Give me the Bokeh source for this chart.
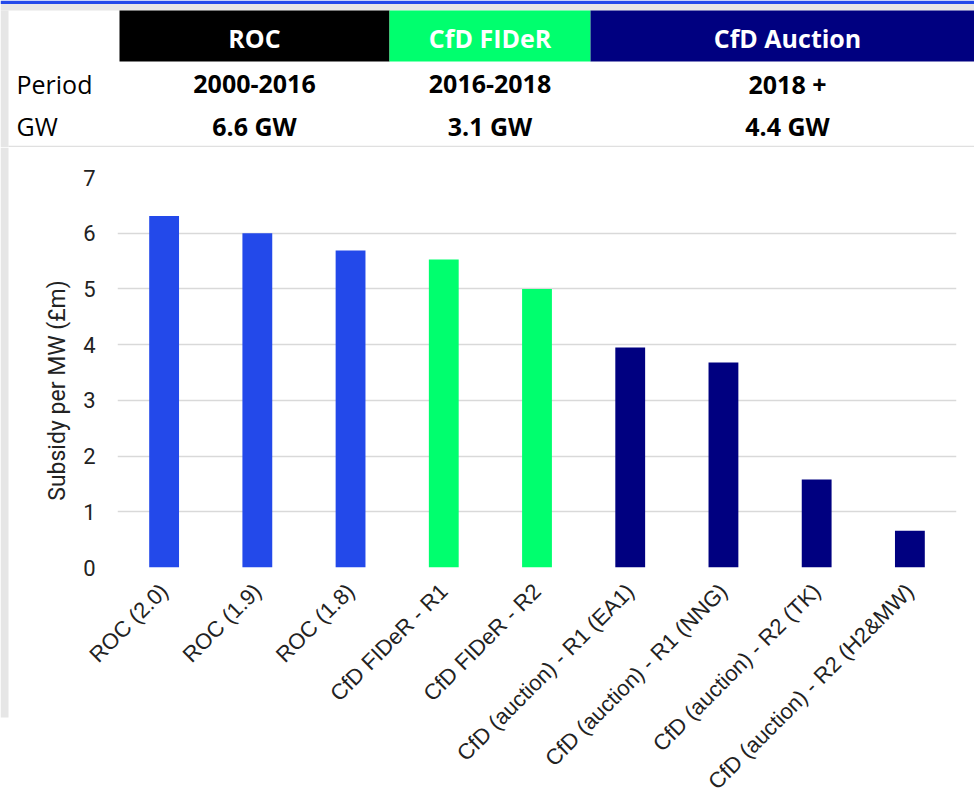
import math
from bokeh.plotting import figure
from bokeh.layouts import row, column
from bokeh.models import Range1d, FactorRange, ColumnDataSource
from bokeh.core.properties import value
from bokeh.embed import file_html
from bokeh.resources import INLINE

# ---------------- data ----------------
categories = [
    "ROC (2.0)", "ROC (1.9)", "ROC (1.8)",
    "CfD FIDeR - R1", "CfD FIDeR - R2",
    "CfD (auction) - R1 (EA1)", "CfD (auction) - R1 (NNG)",
    "CfD (auction) - R2 (TK)", "CfD (auction) - R2 (H2&MW)",
]
subsidy_per_mw = [6.31, 6.0, 5.69, 5.53, 5.0, 3.95, 3.68, 1.58, 0.66]
bar_scheme = ["ROC", "ROC", "ROC", "FIDeR", "FIDeR",
              "Auction", "Auction", "Auction", "Auction"]
scheme_colors = {"ROC": "#2349EA", "FIDeR": "#00FF6E", "Auction": "#000080"}

header_names = ["ROC", "CfD FIDeR", "CfD Auction"]
header_fill = ["#000000", "#00FF6E", "#000080"]
periods = ["2000-2016", "2016-2018", "2018 +"]
capacities = ["6.6 GW", "3.1 GW", "4.4 GW"]
row_labels = ["Period", "GW"]
y_ticks = [0, 1, 2, 3, 4, 5, 6, 7]
y_title = "Subsidy per MW (£m)"

BLUE_LINE = "#2349EA"
FRAME_GRAY = "#E6E6E6"
LEFT_W = 72


def blank(fig):
    fig.axis.visible = False
    fig.grid.visible = False
    fig.outline_line_color = None
    fig.frame_align = False
    return fig


# ---------------- header table (full width) ----------------
hdr = blank(figure(width=974, height=147, x_range=Range1d(0, 974), y_range=Range1d(147, 0),
                   output_backend="svg", toolbar_location=None, min_border=0))
hdr.quad(left=[0], right=[974], top=[0], bottom=[3.5], fill_color=BLUE_LINE, line_color=None)
hdr.quad(left=[0], right=[974], top=[3.5], bottom=[10], fill_color=FRAME_GRAY, line_color=None)
hdr.quad(left=[0], right=[8], top=[10], bottom=[147], fill_color=FRAME_GRAY, line_color=None)

cell_left = [119, 389, 590]
cell_right = [389, 590, 974]
text_x = [254, 489.5, 787]
hdr.quad(left=cell_left, right=cell_right, top=[10] * 3, bottom=[61] * 3,
         fill_color=header_fill, line_color=None)
hdr.text(x=text_x, y=[37] * 3, text=header_names, text_align="center", text_baseline="middle",
         text_font=value("Open Sans"), text_font_style="bold", text_font_size="25px",
         text_color="white")
hdr.text(x=text_x, y=[83.5] * 3, text=periods, text_align="center", text_baseline="middle",
         text_font=value("Open Sans"), text_font_style="bold", text_font_size="25px",
         text_color="#000000")
hdr.text(x=text_x, y=[125.5] * 3, text=capacities, text_align="center", text_baseline="middle",
         text_font=value("Open Sans"), text_font_style="bold", text_font_size="25px",
         text_color="#000000")
hdr.text(x=[16, 16], y=[83.5, 125.5], text=row_labels, text_align="left", text_baseline="middle",
         text_font=value("Open Sans"), text_font_size="25px", text_color="#000000")
hdr.line(x=[8, 974], y=[146, 146], line_color="#E0E0E0", line_width=1.5)

# ---------------- left panel: grey strip + y-axis title ----------------
left = blank(figure(width=LEFT_W, height=660, x_range=Range1d(0, LEFT_W), y_range=Range1d(0, 660),
                    output_backend="svg", toolbar_location=None, min_border=0))
left.quad(left=[0], right=[8], top=[660], bottom=[90], fill_color=FRAME_GRAY, line_color=None)
left.text(x=[57], y=[417], text=[y_title], angle=math.pi / 2, text_align="center",
          text_baseline="middle", text_font=value("Roboto"), text_font_size="23px",
          text_color="#222222")

# ---------------- bar chart ----------------
src = ColumnDataSource(dict(
    cat=categories,
    val=subsidy_per_mw,
    color=[scheme_colors[s] for s in bar_scheme],
))

p = figure(width=974 - LEFT_W, height=660, x_range=FactorRange(*categories), y_range=Range1d(0, 7),
           output_backend="svg", toolbar_location=None,
           min_border_left=117 - LEFT_W, min_border_right=18, min_border_top=30,
           min_border_bottom=240)
p.frame_align = False
p.vbar(x="cat", top="val", width=0.32, fill_color="color", line_color=None, source=src)

p.outline_line_color = None
p.background_fill_color = "white"
p.border_fill_color = "white"
p.xgrid.visible = False
p.ygrid.grid_line_color = "#D9D9D9"
p.ygrid.grid_line_width = 1.5
p.yaxis.ticker = y_ticks
p.x_range.range_padding = 0
p.x_range.factor_padding = 0

for ax in (p.xaxis[0], p.yaxis[0]):
    ax.axis_line_color = None
    ax.major_tick_line_color = None
    ax.minor_tick_line_color = None
    ax.major_tick_out = 0
    ax.major_tick_in = 0

p.yaxis.major_label_text_font = "Roboto"
p.yaxis.major_label_text_font_size = "22px"
p.yaxis.major_label_text_color = "#222222"
p.yaxis.major_label_standoff = 22

p.xaxis.major_label_orientation = math.pi / 4
p.xaxis.major_label_text_font = "Liberation Sans"
p.xaxis.major_label_text_font_size = "22px"
p.xaxis.major_label_text_color = "#222222"
p.xaxis.major_label_standoff = 20

layout = column(hdr, row(left, p, spacing=0), spacing=0)

with open("out.html", "w") as f:
    f.write(file_html(layout, INLINE))
